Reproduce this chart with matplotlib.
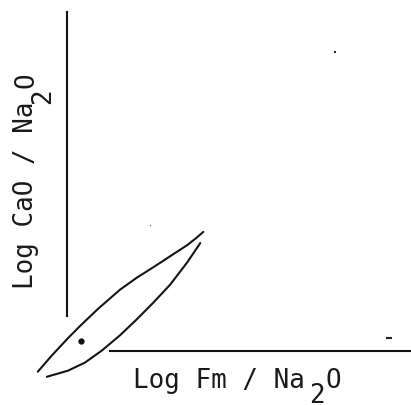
import numpy as np
import matplotlib
matplotlib.use("Agg")
import matplotlib.pyplot as plt

# lens-shaped field, traced in (log Fm/Na2O, log CaO/Na2O) units
upper_x = [0.28, 0.42, 0.58, 0.70, 0.88, 1.10, 1.27, 1.43, 1.60, 1.77, 1.86, 1.93]
upper_y = [0.45, 0.61, 0.78, 0.90, 1.07, 1.26, 1.38, 1.48, 1.59, 1.70, 1.77, 1.83]
lower_x = [0.37, 0.58, 0.75, 0.92, 1.10, 1.27, 1.43, 1.60, 1.77, 1.90]
lower_y = [0.40, 0.46, 0.54, 0.66, 0.81, 0.97, 1.13, 1.31, 1.53, 1.72]

# single sample inside the field
dot_x, dot_y = [0.71], [0.75]
# stray marks on the sheet
speck_x, speck_y = [3.24, 1.40], [3.61, 1.90]
dash_x, dash_y = [3.78], [0.78]

x_range = (1.0, 4.0)
y_range = (1.0, 4.0)

W, H = 411, 406
fig = plt.figure(figsize=(W / 100, H / 100), dpi=100)
ax = fig.add_axes([110 / W, (H - 317) / H, (W - 110) / W, (317 - 13) / H])
ax.set_xlim(*x_range)
ax.set_ylim(*y_range)

for side in ("top", "right"):
    ax.spines[side].set_visible(False)
ax.spines["left"].set_position(("outward", 31))
ax.spines["bottom"].set_position(("outward", 25))
for side in ("left", "bottom"):
    ax.spines[side].set_linewidth(1.5)
    ax.spines[side].set_color("#111111")
ax.set_xticks([])
ax.set_yticks([])

kw = dict(color="#151515", lw=1.5, clip_on=False, solid_capstyle="round",
          solid_joinstyle="round")
ax.plot(upper_x, upper_y, **kw)
ax.plot(lower_x, lower_y, **kw)
ax.plot(dot_x, dot_y, "o", ms=3.5, color="#111111", clip_on=False)
ax.plot(speck_x[:1], speck_y[:1], "s", ms=1.6, color="#222222", mew=0, clip_on=False)
ax.plot(speck_x[1:], speck_y[1:], "s", ms=1.0, color="#777777", mew=0, clip_on=False)
ax.plot(dash_x, dash_y, "_", ms=4, mew=1.5, color="#222222", clip_on=False)

font = dict(family="DejaVu Sans Mono", fontsize=18.6, color="#1a1a1a",
            ha="left", va="baseline", rotation_mode="anchor")


def put(px, py, s, rot=0):
    # place a piece of text by pixel position (origin top-left)
    fig.text(px / W, 1 - py / H, s, rotation=rot, **font)


# axis titles; the subscript is a full-size digit set below the line
put(133, 388, "Log Fm / Na")
put(309, 403, "2")
put(325, 388, "O")

put(33, 289, "Log CaO / Na", rot=90)
put(50, 104, "2", rot=90)
put(33, 88, "O", rot=90)

fig.savefig("out.png", dpi=100)
